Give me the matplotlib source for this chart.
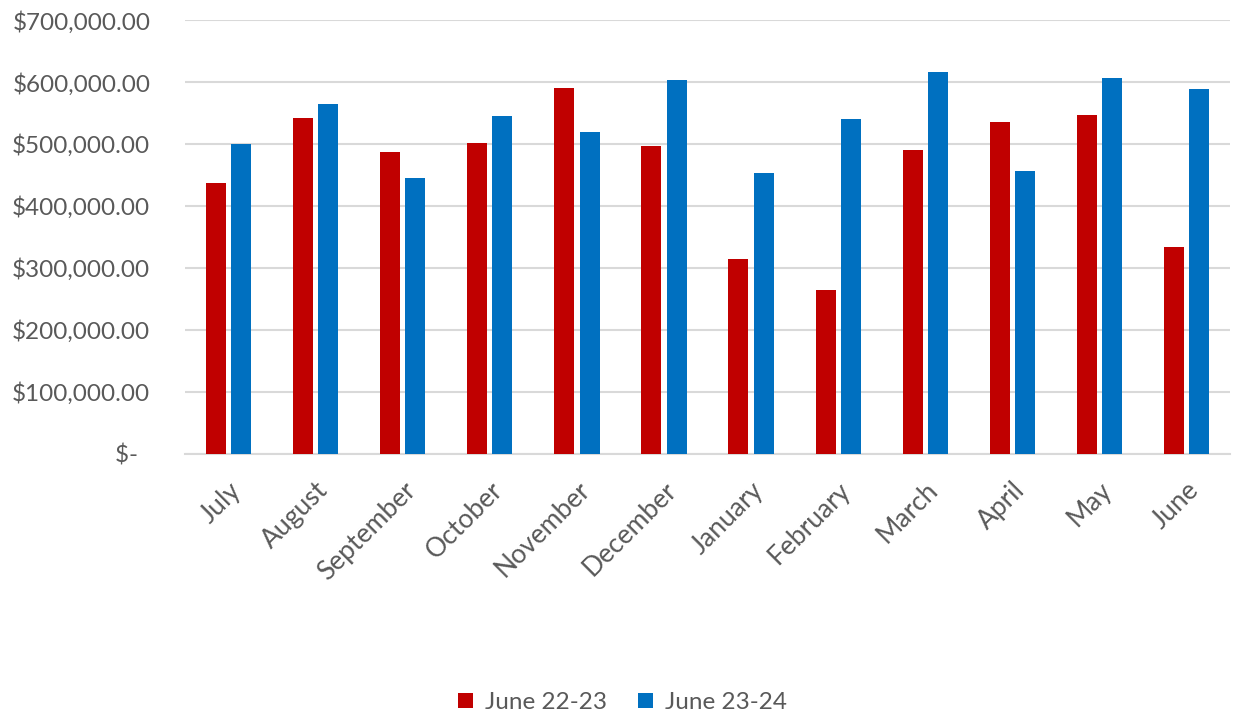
import matplotlib.pyplot as plt
import numpy as np
from matplotlib.ticker import FuncFormatter

months = ["July", "August", "September", "October", "November", "December",
          "January", "February", "March", "April", "May", "June"]
june_22_23 = [437000, 542000, 487000, 502000, 591000, 496000,
              315000, 265000, 491000, 535000, 547000, 334000]
june_23_24 = [500000, 565000, 445000, 546000, 520000, 604000,
              453000, 541000, 617000, 456000, 606000, 589000]
series_names = ["June 22-23", "June 23-24"]
colors = ["#c00000", "#0070c0"]

plt.rcParams['font.family'] = ['Lato', 'DejaVu Sans']

fig = plt.figure(figsize=(12.45, 7.17), dpi=100)
ax = fig.add_axes([0.1486, 0.367, 0.8394, 0.605])

x = np.arange(len(months))
w = 0.23
ax.bar(x - w / 2 - 0.03, june_22_23, width=w, color=colors[0], label=series_names[0], zorder=3)
ax.bar(x + w / 2 + 0.03, june_23_24, width=w, color=colors[1], label=series_names[1], zorder=3)

ax.set_xlim(-0.5, len(months) - 0.5)
ax.set_ylim(0, 700000)
ax.set_yticks(np.arange(0, 700001, 100000))

def money(v, pos):
    if v == 0:
        return "$-  "
    return "${:,.2f}".format(v)

ax.yaxis.set_major_formatter(FuncFormatter(money))
ax.grid(axis='y', color='#d9d9d9', linewidth=1.5, zorder=0)
for s in ['top', 'right', 'left']:
    ax.spines[s].set_visible(False)
ax.spines['bottom'].set_color('#d9d9d9')
ax.spines['bottom'].set_linewidth(1.5)
ax.tick_params(axis='both', length=0, colors='#595959')
ax.tick_params(axis='y', pad=25, labelsize=17.5)

ax.set_xticks(x)
ax.set_xticklabels(months, rotation=45, ha='right', rotation_mode='anchor')
ax.tick_params(axis='x', pad=17, labelsize=19)

leg = fig.legend(loc='lower center', bbox_to_anchor=(0.5, -0.025), ncol=2, frameon=False,
                 fontsize=17.5, handlelength=0.6, handleheight=0.6, handletextpad=0.5,
                 columnspacing=1.3)
for t in leg.get_texts():
    t.set_color('#595959')

fig.savefig("out.png", dpi=100)
